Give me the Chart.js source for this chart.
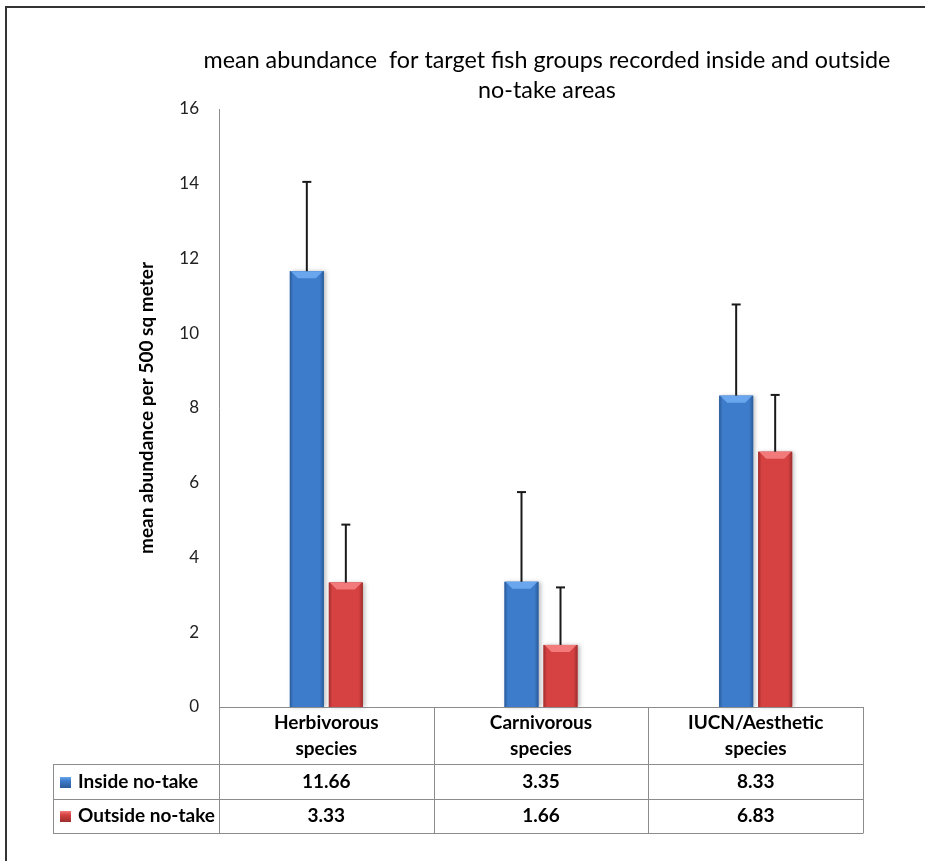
<!DOCTYPE html>
<html>
<head>
<meta charset="utf-8">
<script src="https://cdn.jsdelivr.net/npm/chart.js@4.4.0/dist/chart.umd.min.js"></script>
<style>
html, body { margin: 0; padding: 0; background: #fff; }
</style>
</head>
<body>
<canvas id="myChart" width="925" height="861"></canvas>
<script>
// chart data
var titleLines = ['mean abundance  for target fish groups recorded inside and outside', 'no-take areas'];
var categories = [["Herbivorous", "species"], ["Carnivorous", "species"], ["IUCN/Aesthetic", "species"]];
var seriesNames = ["Inside no-take", "Outside no-take"];
var insideValues = [11.66, 3.35, 8.33];
var outsideValues = [3.33, 1.66, 6.83];
var insideErrors = [2.39, 2.40, 2.44];
var outsideErrors = [1.55, 1.54, 1.52];
var yMin = 0, yMax = 16, yStep = 2;

var FONT = 'Lato, "Open Sans", sans-serif';
var blue = { base: '#3d7ccb', dark: '#2a5a98', light: '#6aa6ee' };
var red = { base: '#d64141', dark: '#9e2e2e', light: '#f27a7a' };

function line(ctx, x1, y1, x2, y2) {
    ctx.beginPath();
    ctx.moveTo(x1, y1);
    ctx.lineTo(x2, y2);
    ctx.stroke();
}

// outer frame of the chart object (cut off on the right and bottom) + title
var framePlugin = {
    id: 'frame',
    beforeDraw: function (chart) {
        var ctx = chart.ctx;
        ctx.save();
        ctx.fillStyle = '#fff';
        ctx.fillRect(0, 0, chart.width, chart.height);
        ctx.strokeStyle = '#333';
        ctx.lineWidth = 2;
        ctx.strokeRect(6, 7, 940, 900);
        ctx.restore();
    },
    afterDraw: function (chart) {
        // title is wider than the plot, so it is drawn here without a max width
        var ctx = chart.ctx, area = chart.chartArea;
        var cx = (area.left + area.right) / 2 + 6;
        ctx.save();
        ctx.fillStyle = '#000';
        ctx.font = '23.3px ' + FONT;
        ctx.textAlign = 'center';
        ctx.textBaseline = 'middle';
        titleLines.forEach(function (t, i) {
            ctx.fillText(t, cx, area.top - 49 + i * 30);
        });
        ctx.restore();
    }
};

function shadeBar(ctx, x0, w, top, bottom, c) {
    var g = ctx.createLinearGradient(x0, 0, x0 + w, 0);
    g.addColorStop(0, c.dark);
    g.addColorStop(0.1, c.base);
    g.addColorStop(0.5, c.base);
    g.addColorStop(0.88, c.base);
    g.addColorStop(1, c.dark);
    ctx.fillStyle = g;
    ctx.fillRect(x0, top, w, bottom - top);
    // bevel on top
    var b = Math.min(7, (bottom - top) / 2);
    ctx.fillStyle = c.light;
    ctx.beginPath();
    ctx.moveTo(x0 + 1, top);
    ctx.lineTo(x0 + w - 1, top);
    ctx.lineTo(x0 + w - 1 - b, top + b);
    ctx.lineTo(x0 + 1 + b, top + b);
    ctx.closePath();
    ctx.fill();
}

// bevelled bars + error bars
var barsPlugin = {
    id: 'bars',
    afterDatasetsDraw: function (chart) {
        var ctx = chart.ctx, y = chart.scales.y;
        chart.data.datasets.forEach(function (ds, di) {
            var meta = chart.getDatasetMeta(di);
            meta.data.forEach(function (bar, i) {
                var p = bar.getProps(['x', 'y', 'base', 'width'], true);
                var x0 = p.x - p.width / 2;
                ctx.save();
                ctx.shadowColor = 'rgba(0,0,0,0.25)';
                ctx.shadowBlur = 4;
                ctx.shadowOffsetX = 2;
                ctx.fillStyle = ds.shade.base;
                ctx.fillRect(x0, p.y, p.width, p.base - p.y);
                ctx.restore();
                ctx.save();
                shadeBar(ctx, x0, p.width, p.y, p.base, ds.shade);
                ctx.restore();
            });
        });
        chart.data.datasets.forEach(function (ds, di) {
            var meta = chart.getDatasetMeta(di);
            meta.data.forEach(function (bar, i) {
                var p = bar.getProps(['x', 'y'], true);
                var top = y.getPixelForValue(ds.data[i] + ds.errors[i]);
                ctx.save();
                ctx.strokeStyle = '#1a1a1a';
                ctx.lineWidth = 2;
                line(ctx, p.x, p.y, p.x, top);
                line(ctx, p.x - 4.5, top, p.x + 4.5, top);
                ctx.restore();
            });
        });
    }
};

// data table under the plot
var tablePlugin = {
    id: 'dataTable',
    afterDraw: function (chart) {
        var ctx = chart.ctx, x = chart.scales.x, area = chart.chartArea;
        var n = categories.length, cw = (area.right - area.left) / n;
        var tableLeft = 53;
        var headBottom = area.bottom + 57, row1 = headBottom + 35, row2 = row1 + 34;
        ctx.save();
        ctx.strokeStyle = '#8c8c8c';
        ctx.lineWidth = 1;
        line(ctx, area.left, area.bottom + 0.5, area.right, area.bottom + 0.5);
        [headBottom, row1, row2].forEach(function (yy) {
            line(ctx, tableLeft, yy + 0.5, area.right, yy + 0.5);
        });
        for (var i = 0; i <= n; i++) {
            var xx = Math.round(area.left + i * cw) + 0.5;
            line(ctx, xx, area.bottom, xx, row2 + 0.5);
        }
        line(ctx, tableLeft + 0.5, headBottom, tableLeft + 0.5, row2 + 0.5);

        ctx.fillStyle = '#000';
        ctx.font = 'bold 19px ' + FONT;
        ctx.textAlign = 'center';
        ctx.textBaseline = 'middle';
        var rows = [insideValues, outsideValues];
        categories.forEach(function (cat, i) {
            var cx = x.getPixelForValue(i);
            ctx.fillText(cat[0], cx, area.bottom + 16);
            ctx.fillText(cat[1], cx, area.bottom + 42);
            ctx.fillText(rows[0][i].toFixed(2), cx, headBottom + 18);
            ctx.fillText(rows[1][i].toFixed(2), cx, row1 + 17);
        });
        // row labels with legend keys
        var shades = [blue, red], rowMid = [headBottom + 18, row1 + 17];
        seriesNames.forEach(function (name, r) {
            var sy = rowMid[r] - 5;
            var g = ctx.createLinearGradient(60, sy, 60, sy + 11);
            g.addColorStop(0, shades[r].light);
            g.addColorStop(0.35, shades[r].base);
            g.addColorStop(1, shades[r].dark);
            ctx.fillStyle = g;
            ctx.fillRect(60, sy, 11, 11);
            ctx.fillStyle = '#000';
            ctx.textAlign = 'left';
            ctx.fillText(name, 78, rowMid[r]);
        });
        ctx.restore();
    }
};

function renderChart() {
    var ctx = document.getElementById('myChart').getContext('2d');
    var myChart = new Chart(ctx, {
        type: 'bar',
        data: {
            labels: categories.map(function (c) { return c.join(' '); }),
            datasets: [{
                label: seriesNames[0],
                data: insideValues,
                errors: insideErrors,
                shade: blue,
                backgroundColor: 'rgba(0,0,0,0)',
                categoryPercentage: 0.3634,
                barPercentage: 0.872
            }, {
                label: seriesNames[1],
                data: outsideValues,
                errors: outsideErrors,
                shade: red,
                backgroundColor: 'rgba(0,0,0,0)',
                categoryPercentage: 0.3634,
                barPercentage: 0.872
            }]
        },
        options: {
            responsive: false,
            animation: false,
            layout: { padding: { left: 130, right: 62, top: 109, bottom: 0 } },
            plugins: {
                legend: { display: false },
                tooltip: { enabled: false },
                title: { display: false }
            },
            scales: {
                x: {
                    grid: { display: false },
                    border: { display: false },
                    ticks: { display: false },
                    afterFit: function (scale) { scale.height = 154; }
                },
                y: {
                    min: yMin,
                    max: yMax,
                    grid: { display: false, drawTicks: false },
                    border: { display: true, color: '#8c8c8c', width: 1 },
                    ticks: {
                        stepSize: yStep,
                        padding: 20,
                        color: '#222',
                        font: { family: FONT, size: 17 }
                    },
                    title: {
                        display: true,
                        text: 'mean abundance per 500 sq meter',
                        color: '#000',
                        font: { family: FONT, size: 19, weight: 'bold' },
                        padding: { top: 5, bottom: 0 }
                    },
                    afterFit: function (scale) { scale.width = 89; }
                }
            }
        },
        plugins: [framePlugin, barsPlugin, tablePlugin]
    });
}

renderChart();
</script>
</body>
</html>
